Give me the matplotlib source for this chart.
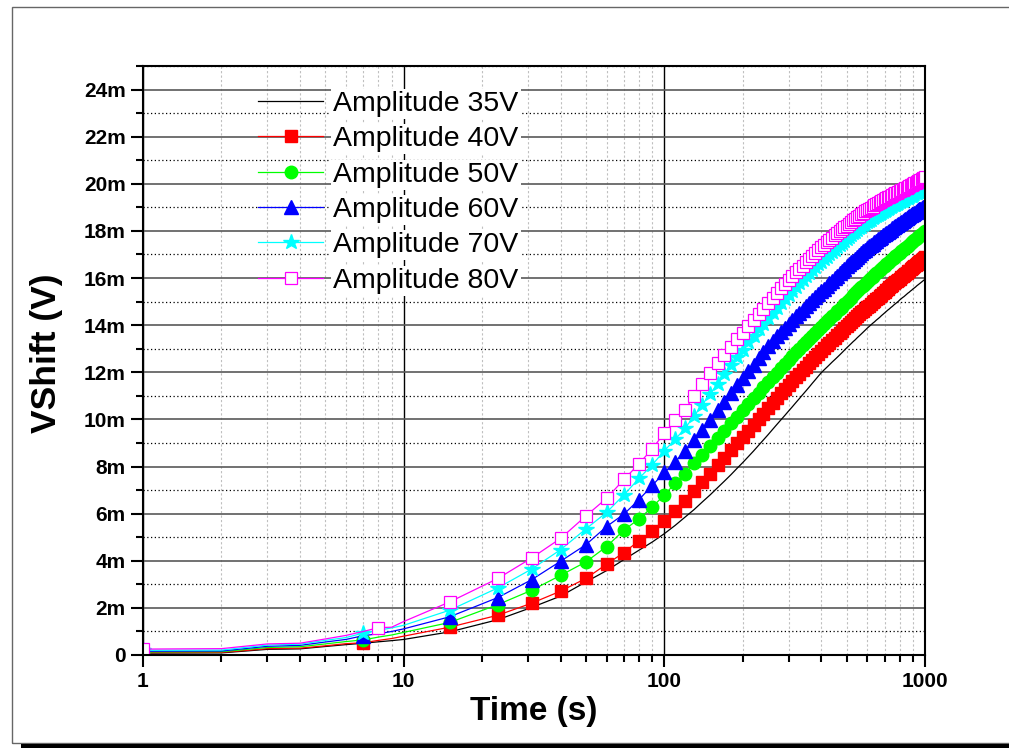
# -*- coding: utf-8 -*-
# VShift vs time, log time axis, six amplitudes

import matplotlib
matplotlib.use("Agg")
import matplotlib.pyplot as plt
from matplotlib.patches import Rectangle
from matplotlib.ticker import FixedLocator, FuncFormatter, MultipleLocator, NullFormatter

plt.rcParams['font.family'] = ['Liberation Sans', 'DejaVu Sans']

#%% data (VShift in mV)

time_s = [1, 2, 3, 4, 5, 6, 7, 8, 9, 10,
          15, 23, 31,
          40, 50, 60, 70, 80, 90, 100,
          110, 120, 130, 140, 150, 160, 170, 180, 190, 200,
          210, 220, 230, 240, 250, 260, 270, 280, 290, 300,
          310, 320, 330, 340, 350, 360, 370, 380, 390, 400,
          410, 420, 430, 440, 450, 460, 470, 480, 490, 500,
          510, 520, 530, 540, 550, 560, 570, 580, 590, 600,
          610, 620, 630, 640, 650, 660, 670, 680, 690, 700,
          710, 720, 730, 740, 750, 760, 770, 780, 790, 800,
          810, 820, 830, 840, 850, 860, 870, 880, 890, 900,
          910, 920, 930, 940, 950, 960, 970, 980, 990, 1000]

amp_35v = [0.08, 0.09, 0.24, 0.26, 0.36, 0.44, 0.50, 0.56, 0.61, 0.66,
           0.98, 1.50, 2.02,
           2.50, 3.10, 3.58, 4.05, 4.45, 4.80, 5.15,
           5.50, 5.85, 6.17, 6.50, 6.80, 7.10, 7.38, 7.65, 7.92, 8.17,
           8.42, 8.66, 8.90, 9.13, 9.35, 9.57, 9.78, 9.98, 10.17, 10.36,
           10.54, 10.72, 10.89, 11.06, 11.22, 11.38, 11.54, 11.69, 11.84, 11.98,
           12.10, 12.21, 12.32, 12.43, 12.53, 12.63, 12.73, 12.83, 12.93, 13.03,
           13.12, 13.21, 13.30, 13.38, 13.47, 13.55, 13.63, 13.71, 13.79, 13.87,
           13.94, 14.01, 14.08, 14.14, 14.21, 14.27, 14.33, 14.40, 14.46, 14.52,
           14.58, 14.64, 14.69, 14.75, 14.80, 14.86, 14.91, 14.96, 15.01, 15.07,
           15.12, 15.17, 15.21, 15.26, 15.31, 15.36, 15.40, 15.45, 15.49, 15.54,
           15.58, 15.62, 15.67, 15.71, 15.75, 15.79, 15.83, 15.87, 15.91, 15.95]

amp_40v = [0.10, 0.11, 0.27, 0.29, 0.39, 0.48, 0.52, 0.62, 0.70, 0.80,
           1.18, 1.69, 2.20,
           2.71, 3.25, 3.85, 4.35, 4.85, 5.27, 5.70,
           6.12, 6.55, 6.95, 7.33, 7.70, 8.05, 8.37, 8.68, 8.98, 9.26,
           9.52, 9.77, 10.02, 10.25, 10.48, 10.70, 10.90, 11.10, 11.28, 11.46,
           11.62, 11.78, 11.94, 12.09, 12.24, 12.38, 12.52, 12.65, 12.78, 12.90,
           13.02, 13.14, 13.25, 13.36, 13.47, 13.57, 13.67, 13.77, 13.86, 13.95,
           14.04, 14.13, 14.21, 14.29, 14.38, 14.46, 14.54, 14.61, 14.69, 14.76,
           14.83, 14.90, 14.97, 15.04, 15.11, 15.17, 15.24, 15.30, 15.36, 15.42,
           15.48, 15.54, 15.60, 15.66, 15.72, 15.77, 15.83, 15.88, 15.93, 15.98,
           16.03, 16.08, 16.13, 16.18, 16.23, 16.28, 16.32, 16.37, 16.42, 16.46,
           16.51, 16.55, 16.59, 16.64, 16.68, 16.72, 16.76, 16.80, 16.84, 16.88]

amp_50v = [0.13, 0.14, 0.32, 0.35, 0.47, 0.57, 0.64, 0.76, 0.85, 0.96,
           1.38, 2.14, 2.75,
           3.38, 3.95, 4.60, 5.30, 5.78, 6.28, 6.80,
           7.28, 7.70, 8.13, 8.51, 8.86, 9.20, 9.52, 9.83, 10.11, 10.38,
           10.64, 10.89, 11.13, 11.36, 11.58, 11.79, 11.99, 12.17, 12.35, 12.52,
           12.68, 12.84, 12.99, 13.14, 13.28, 13.42, 13.55, 13.68, 13.80, 13.92,
           14.04, 14.16, 14.27, 14.38, 14.49, 14.59, 14.69, 14.79, 14.89, 14.99,
           15.08, 15.17, 15.26, 15.35, 15.43, 15.52, 15.60, 15.68, 15.76, 15.84,
           15.92, 15.99, 16.06, 16.13, 16.20, 16.27, 16.34, 16.40, 16.46, 16.52,
           16.58, 16.64, 16.70, 16.76, 16.82, 16.87, 16.93, 16.98, 17.03, 17.08,
           17.13, 17.18, 17.23, 17.28, 17.33, 17.38, 17.42, 17.47, 17.52, 17.56,
           17.61, 17.65, 17.69, 17.74, 17.78, 17.82, 17.86, 17.90, 17.94, 17.98]

amp_60v = [0.16, 0.17, 0.37, 0.41, 0.55, 0.66, 0.82, 0.90, 1.00, 1.11,
           1.62, 2.44, 3.20,
           3.98, 4.68, 5.45, 5.98, 6.60, 7.20, 7.75,
           8.20, 8.65, 9.11, 9.56, 9.98, 10.38, 10.75, 11.10, 11.44, 11.75,
           12.05, 12.33, 12.61, 12.86, 13.11, 13.33, 13.53, 13.71, 13.88, 14.05,
           14.21, 14.37, 14.52, 14.66, 14.80, 14.93, 15.06, 15.19, 15.31, 15.43,
           15.55, 15.66, 15.77, 15.88, 15.99, 16.10, 16.20, 16.30, 16.40, 16.49,
           16.58, 16.66, 16.74, 16.82, 16.90, 16.98, 17.06, 17.13, 17.20, 17.27,
           17.34, 17.40, 17.46, 17.52, 17.58, 17.64, 17.70, 17.76, 17.81, 17.86,
           17.91, 17.96, 18.01, 18.06, 18.11, 18.16, 18.20, 18.25, 18.29, 18.34,
           18.38, 18.42, 18.46, 18.50, 18.54, 18.58, 18.62, 18.66, 18.70, 18.73,
           18.77, 18.80, 18.84, 18.87, 18.91, 18.94, 18.97, 19.00, 19.03, 19.06]

amp_70v = [0.20, 0.21, 0.42, 0.46, 0.62, 0.74, 0.93, 1.05, 1.15, 1.26,
           1.90, 2.85, 3.65,
           4.47, 5.35, 6.05, 6.80, 7.50, 8.08, 8.67,
           9.15, 9.62, 10.14, 10.63, 11.09, 11.52, 11.92, 12.29, 12.64, 12.96,
           13.27, 13.55, 13.82, 14.06, 14.30, 14.52, 14.72, 14.92, 15.11, 15.29,
           15.46, 15.63, 15.79, 15.93, 16.07, 16.20, 16.33, 16.46, 16.58, 16.69,
           16.80, 16.90, 17.00, 17.10, 17.20, 17.30, 17.39, 17.48, 17.57, 17.66,
           17.74, 17.82, 17.90, 17.97, 18.04, 18.11, 18.18, 18.24, 18.30, 18.36,
           18.42, 18.48, 18.53, 18.58, 18.63, 18.68, 18.73, 18.77, 18.81, 18.85,
           18.89, 18.93, 18.97, 19.01, 19.05, 19.08, 19.12, 19.15, 19.19, 19.22,
           19.25, 19.29, 19.32, 19.35, 19.38, 19.41, 19.44, 19.47, 19.50, 19.53,
           19.56, 19.59, 19.61, 19.64, 19.67, 19.70, 19.72, 19.75, 19.78, 19.80]

amp_80v = [0.25, 0.27, 0.47, 0.50, 0.68, 0.83, 1.00, 1.16, 1.18, 1.42,
           2.25, 3.25, 4.12,
           4.95, 5.90, 6.65, 7.45, 8.12, 8.76, 9.42,
           9.96, 10.42, 10.98, 11.49, 11.98, 12.38, 12.75, 13.09, 13.40, 13.68,
           13.96, 14.21, 14.46, 14.70, 14.93, 15.15, 15.36, 15.57, 15.75, 15.92,
           16.09, 16.25, 16.40, 16.53, 16.66, 16.80, 16.93, 17.06, 17.18, 17.30,
           17.41, 17.52, 17.62, 17.72, 17.81, 17.90, 17.98, 18.07, 18.15, 18.23,
           18.30, 18.38, 18.45, 18.52, 18.59, 18.65, 18.71, 18.77, 18.83, 18.88,
           18.93, 18.98, 19.03, 19.08, 19.13, 19.18, 19.22, 19.27, 19.31, 19.35,
           19.39, 19.42, 19.46, 19.49, 19.53, 19.56, 19.59, 19.62, 19.65, 19.69,
           19.72, 19.75, 19.78, 19.81, 19.84, 19.87, 19.90, 19.93, 19.96, 19.99,
           20.02, 20.05, 20.08, 20.11, 20.14, 20.17, 20.20, 20.23, 20.26, 20.29]

labels = ["Amplitude 35V", "Amplitude 40V", "Amplitude 50V",
          "Amplitude 60V", "Amplitude 70V", "Amplitude 80V"]

x_ticks = [1, 10, 100, 1000]
y_ticks = [0, 2, 4, 6, 8, 10, 12, 14, 16, 18, 20, 22, 24]

#%% figure

W, H = 1009, 748
fig = plt.figure(figsize=(W / 100, H / 100), dpi=100)
ax = fig.add_axes([143 / W, 1 - 655 / H, 782 / W, 589 / H])

# marker every point except the early 2-6 s samples
n = len(time_s)
mk = [0, 6] + list(range(10, n))
mk_pink = [0, 7] + list(range(10, n))

ax.plot(time_s, amp_35v, color="black", lw=0.9, label=labels[0])
ax.plot(time_s, amp_40v, color="#ff0000", lw=0.9, marker="s", ms=8,
        mfc="#ff0000", mec="#ff0000", markevery=mk, label=labels[1])
ax.plot(time_s, amp_50v, color="#00ff00", lw=0.9, marker="o", ms=9,
        mfc="#00ff00", mec="#00ff00", markevery=mk, label=labels[2])
ax.plot(time_s, amp_60v, color="#0000ff", lw=0.9, marker="^", ms=10,
        mfc="#0000ff", mec="#0000ff", markevery=mk, label=labels[3])
ax.plot(time_s, amp_70v, color="#00ffff", lw=0.9, marker="*", ms=11.5,
        mfc="#00ffff", mec="#00ffff", markevery=mk, label=labels[4])
ax.plot(time_s, amp_80v, color="#ff00ff", lw=0.9, marker="s", ms=8.5,
        mfc="white", mec="#ff00ff", mew=0.9, markevery=mk_pink, label=labels[5])

ax.set_xscale("log")
ax.set_xlim(1, 1000)
ax.set_ylim(0, 25)

ax.xaxis.set_major_locator(FixedLocator(x_ticks))
ax.xaxis.set_major_formatter(FuncFormatter(lambda v, p: "%g" % v))
ax.xaxis.set_minor_formatter(NullFormatter())
ax.yaxis.set_major_locator(FixedLocator(y_ticks))
ax.yaxis.set_minor_locator(MultipleLocator(1))
ax.yaxis.set_major_formatter(FuncFormatter(lambda v, p: "0" if v == 0 else "%gm" % v))

# grid
ax.set_axisbelow(True)
ax.grid(which="major", axis="y", color="0.35", lw=1.2, ls="-")
ax.grid(which="minor", axis="y", color="black", lw=0.9, ls=(0, (1, 2)))
ax.grid(which="major", axis="x", color="black", lw=1.0, ls="-")
ax.grid(which="minor", axis="x", color="0.75", lw=0.8, ls=(0, (2, 2)))

ax.tick_params(which="major", direction="out", length=8.5, width=1.5,
               labelsize=15, pad=4)
ax.tick_params(which="minor", direction="out", length=5, width=1.5)
ax.tick_params(top=False, right=False)
plt.setp(ax.get_xticklabels() + ax.get_yticklabels(), fontweight="bold")

for s in ax.spines.values():
    s.set_linewidth(1.5)
    s.set_color("black")

ax.set_xlabel("Time (s)", fontsize=24, fontweight="bold")
ax.set_ylabel("VShift (V)", fontsize=25.5, fontweight="bold")
ax.xaxis.set_label_coords(0.5, -0.07)
ax.yaxis.set_label_coords(-0.102, 0.512)

leg = ax.legend(loc="upper left", bbox_to_anchor=(0.147, 0.958), frameon=False,
                fontsize=20.5, handlelength=2.3, handletextpad=0.35,
                labelspacing=0.33, borderpad=0, borderaxespad=0, numpoints=1)
for txt in leg.get_texts():
    txt.set_bbox(dict(facecolor="white", edgecolor="none", pad=1.5))

# page frame with bottom shadow
fig.add_artist(Rectangle((12 / W, 5 / H), 1.0, 736 / H, transform=fig.transFigure,
                         fill=False, edgecolor="0.4", lw=1))
fig.add_artist(Rectangle((21 / W, 0), 1.0, 4 / H, transform=fig.transFigure,
                         facecolor="black", edgecolor="none"))

fig.savefig("out.png", dpi=100)
